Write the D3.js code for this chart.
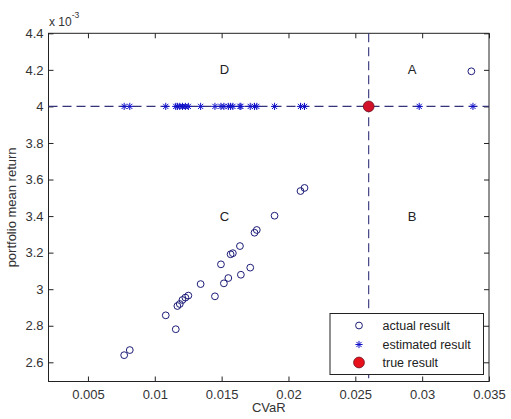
<!DOCTYPE html>
<html>
<head>
<meta charset="utf-8">
<script src="https://cdn.jsdelivr.net/npm/d3@7"></script>
<style>
  html, body { margin: 0; padding: 0; background: #fff; }
  svg { display: block; font-family: Arial, "Liberation Sans", sans-serif; }
</style>
</head>
<body>
<svg id="chart" width="511" height="419"></svg>
<script>
// Realised portfolios: CVaR vs mean return (returns in units of 1e-3)
const actualCVaR   = [0.00771, 0.00813, 0.01082, 0.01157, 0.01169, 0.01187, 0.01207, 0.01229, 0.01251,
                      0.01343, 0.01450, 0.01495, 0.01517, 0.01550, 0.01567, 0.01584, 0.01637, 0.01644,
                      0.01714, 0.01746, 0.01763, 0.01896, 0.02090, 0.02120, 0.03368];
const actualReturn = [2.639, 2.667, 2.857, 2.781, 2.908, 2.919, 2.941, 2.954, 2.965,
                      3.028, 2.961, 3.136, 3.032, 3.061, 3.191, 3.197, 3.236, 3.079,
                      3.118, 3.309, 3.324, 3.402, 3.537, 3.554, 4.192];
// Estimated portfolios all sit on the target return
const estimatedCVaR = [0.00771, 0.00813, 0.01082, 0.01157, 0.01169, 0.01187, 0.01207, 0.01229, 0.01251,
                       0.01343, 0.01450, 0.01495, 0.01517, 0.01550, 0.01567, 0.01584, 0.01637, 0.01644,
                       0.01714, 0.01746, 0.01763, 0.01896, 0.02090, 0.02120, 0.02978, 0.03380];
const targetReturn = 4.0;
const trueCVaR = 0.026;
const trueReturn = 4.0;

const xTicks = [0.005, 0.01, 0.015, 0.02, 0.025, 0.03, 0.035];
const yTicks = [2.6, 2.8, 3.0, 3.2, 3.4, 3.6, 3.8, 4.0, 4.2, 4.4];
const quadrants = [
  { label: "A", cx: 0.02925, cy: 4.2 },
  { label: "B", cx: 0.02925, cy: 3.4 },
  { label: "C", cx: 0.01522, cy: 3.4 },
  { label: "D", cx: 0.01522, cy: 4.2 }
];
const legendItems = ["actual result", "estimated result", "true result"];

const svg = d3.select("#chart");
const m = { left: 48.5, top: 33.3, right: 489, bottom: 381.5 };

const x = d3.scaleLinear().domain([0.00205, 0.035]).range([m.left, m.right]);
const y = d3.scaleLinear().domain([2.495, 4.4]).range([m.bottom, m.top]);

const axisColor = "#222";
const tickColor = "#333";
const lineColor = "#33337a";
const starColor = "#1010c8";
const circleColor = "#1c1c78";
const fs = 13;

// Axes with ticks on all four sides, pointing inwards
const fmtX = d => d3.format("")(+d.toFixed(3));
const fmtY = d => d3.format("")(+d.toFixed(1));
const gx = svg.append("g").attr("transform", `translate(0,${m.bottom})`)
  .call(d3.axisBottom(x).tickValues(xTicks).tickSizeInner(-5).tickSizeOuter(0).tickPadding(8).tickFormat(fmtX));
const gxTop = svg.append("g").attr("transform", `translate(0,${m.top})`)
  .call(d3.axisTop(x).tickValues(xTicks).tickSizeInner(-5).tickSizeOuter(0).tickFormat(""));
const gy = svg.append("g").attr("transform", `translate(${m.left},0)`)
  .call(d3.axisLeft(y).tickValues(yTicks).tickSizeInner(-5).tickSizeOuter(0).tickPadding(5).tickFormat(fmtY));
const gyRight = svg.append("g").attr("transform", `translate(${m.right},0)`)
  .call(d3.axisRight(y).tickValues(yTicks).tickSizeInner(-5).tickSizeOuter(0).tickFormat(""));

[gx, gxTop, gy, gyRight].forEach(g => {
  g.select(".domain").remove();
  g.selectAll(".tick line").attr("stroke", axisColor);
  g.selectAll(".tick text").attr("fill", tickColor).attr("font-size", fs)
    .attr("font-family", "Arial, 'Liberation Sans', sans-serif");
});

// Frame
svg.append("rect")
  .attr("x", m.left).attr("y", m.top)
  .attr("width", m.right - m.left).attr("height", m.bottom - m.top)
  .attr("fill", "none").attr("stroke", axisColor).attr("stroke-width", 1);

// Exponent marker
const expo = svg.append("text").attr("x", m.left + 0.5).attr("y", 26)
  .attr("font-size", 12).attr("fill", tickColor);
expo.append("tspan").text("x 10");
expo.append("tspan").attr("dy", -8).attr("font-size", 8.5).text("-3");

// Axis titles
svg.append("text").attr("x", (m.left + m.right) / 2).attr("y", 412)
  .attr("text-anchor", "middle").attr("font-size", fs).attr("fill", tickColor).text("CVaR");
svg.append("text")
  .attr("transform", `translate(16,${(m.top + m.bottom) / 2}) rotate(-90)`)
  .attr("text-anchor", "middle").attr("font-size", fs).attr("fill", tickColor)
  .text("portfolio mean return");

// Reference lines through the true result
svg.append("line")
  .attr("x1", m.left).attr("x2", m.right).attr("y1", y(targetReturn)).attr("y2", y(targetReturn))
  .attr("stroke", lineColor).attr("stroke-width", 1.1).attr("stroke-dasharray", "9,5");
svg.append("line")
  .attr("x1", x(trueCVaR)).attr("x2", x(trueCVaR)).attr("y1", m.top).attr("y2", m.bottom)
  .attr("stroke", lineColor).attr("stroke-width", 1.1).attr("stroke-dasharray", "9,5");

// Quadrant labels
svg.append("g").selectAll("text").data(quadrants).join("text")
  .attr("x", d => x(d.cx)).attr("y", d => y(d.cy)).attr("dy", "0.35em")
  .attr("text-anchor", "middle").attr("font-size", fs).attr("fill", "#222")
  .text(d => d.label);

// Asterisk marker path (plus and cross overlaid)
function starPath(s) {
  const d = s * 0.72;
  return `M${-s},0L${s},0M0,${-s}L0,${s}M${-d},${-d}L${d},${d}M${-d},${d}L${d},${-d}`;
}

// Actual results
svg.append("g").selectAll("circle").data(actualCVaR).join("circle")
  .attr("cx", d => x(d)).attr("cy", (d, i) => y(actualReturn[i])).attr("r", 3.4)
  .attr("fill", "none").attr("stroke", circleColor).attr("stroke-width", 1);

// Estimated results
svg.append("g").selectAll("path").data(estimatedCVaR).join("path")
  .attr("transform", d => `translate(${x(d)},${y(targetReturn)})`)
  .attr("d", starPath(3.6)).attr("stroke", starColor).attr("stroke-width", 1).attr("fill", "none");

// True result
svg.append("circle").attr("cx", x(trueCVaR)).attr("cy", y(trueReturn)).attr("r", 5.4)
  .attr("fill", "#d2102a").attr("stroke", "#6a1020").attr("stroke-width", 0.8);

// Legend
const lg = svg.append("g");
lg.append("rect").attr("x", 330).attr("y", 313.5).attr("width", 153.5).attr("height", 61)
  .attr("fill", "#fff").attr("stroke", axisColor).attr("stroke-width", 1);
const rowY = [325.5, 344.5, 362.5];
const mx = 359, tx = 382.5;
lg.append("circle").attr("cx", mx).attr("cy", rowY[0]).attr("r", 3.4)
  .attr("fill", "none").attr("stroke", circleColor);
lg.append("path").attr("transform", `translate(${mx},${rowY[1]})`).attr("d", starPath(3.6))
  .attr("stroke", starColor).attr("fill", "none");
lg.append("circle").attr("cx", mx).attr("cy", rowY[2]).attr("r", 5.4)
  .attr("fill", "#e8101a").attr("stroke", "#6a1020").attr("stroke-width", 0.8);
lg.selectAll("text.item").data(legendItems).join("text").attr("class", "item")
  .attr("x", tx).attr("y", (d, i) => rowY[i]).attr("dy", "0.35em")
  .attr("font-size", 12.5).attr("fill", "#222").text(d => d);
</script>
</body>
</html>
